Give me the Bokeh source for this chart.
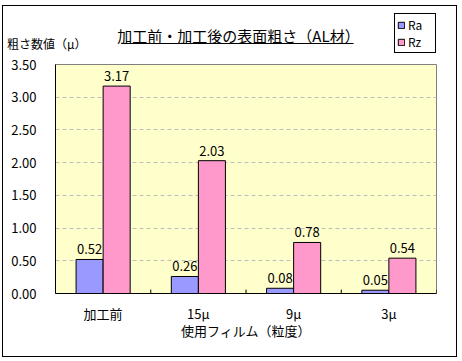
from bokeh.plotting import figure
from bokeh.layouts import column
from bokeh.models import ColumnDataSource, LabelSet, Label, Legend, LegendItem, FixedTicker, NumeralTickFormatter
from bokeh.core.properties import value
from bokeh.transform import dodge
from bokeh.embed import file_html
from bokeh.resources import INLINE

# ---- data ----
categories = ["加工前", "15μ", "9μ", "3μ"]
ra = [0.52, 0.26, 0.08, 0.05]
rz = [3.17, 2.03, 0.78, 0.54]
y_ticks = [0, 0.5, 1.0, 1.5, 2.0, 2.5, 3.0, 3.5]
series_names = ["Ra", "Rz"]
title_text = "加工前・加工後の表面粗さ（AL材）"
y_title = "粗さ数値（μ）"
x_title = "使用フィルム（粒度）"

FONT = "Noto Sans CJK JP"
RA_COLOR = "#9999FF"
RZ_COLOR = "#FF99CC"

W = 453
HEAD_H = 50
MAIN_H = 300
FRAME_W = 381

src = ColumnDataSource(dict(
    cat=categories, ra=ra, rz=rz,
    ra_t=[f"{v:.2f}" for v in ra], rz_t=[f"{v:.2f}" for v in rz],
    zero=[0] * len(categories), tk=[0.06] * len(categories),
))

# ---- header (title, y-axis title, legend); its frame is aligned with the chart frame ----
head = figure(width=W, height=HEAD_H, x_range=(0, FRAME_W), y_range=(0, HEAD_H),
              x_axis_type=None, min_border=0,
              output_backend="svg", toolbar_location=None,
              outline_line_color=None, background_fill_color="white", border_fill_color="white")
head.ygrid.visible = False
# y-axis title drawn as the single tick label of the header's left axis
head.yaxis.ticker = FixedTicker(ticks=[13])
head.yaxis.major_label_overrides = {13: y_title}
head.yaxis.major_label_standoff = -31
head.yaxis.major_tick_out = 0
head.yaxis.major_tick_in = 0
head.yaxis.minor_tick_out = 0
head.yaxis.minor_tick_in = 0
head.yaxis.axis_line_color = None
head.yaxis.major_label_text_font = FONT
head.yaxis.major_label_text_font_size = "12px"
head.yaxis.major_label_text_color = "black"

head.add_layout(Label(x=183, y=21, text=title_text, text_align="center", text_baseline="middle",
                      text_font=FONT, text_font_size="15px", text_color="black"))
head.line(x=[68, 298], y=[13, 13], line_color="black", line_width=1)

# legend swatches (no visible data in the header; only used for the legend glyphs)
nan = float("nan")
lg_ra = head.vbar(x="x", top="top", width=1, source=ColumnDataSource(dict(x=[nan], top=[nan])),
                  fill_color=RA_COLOR, line_color="black")
lg_rz = head.vbar(x="x", top="top", width=1, source=ColumnDataSource(dict(x=[nan], top=[nan])),
                  fill_color=RZ_COLOR, line_color="black")
legend = Legend(items=[LegendItem(label=series_names[0], renderers=[lg_ra], index=0),
                       LegendItem(label=series_names[1], renderers=[lg_rz], index=0)],
                location=(339, 3), orientation="vertical",
                label_text_font=FONT, label_text_font_size="12px", label_text_color="black",
                glyph_width=8, glyph_height=8, label_height=16, label_width=25, label_standoff=3,
                spacing=0, padding=2, margin=0,
                border_line_color="black", border_line_width=1, border_line_alpha=1,
                background_fill_color="white", background_fill_alpha=1)
head.add_layout(legend)

# ---- main chart ----
p = figure(x_range=categories, y_range=(0, 3.5), width=W, height=MAIN_H,
           output_backend="svg", toolbar_location=None,
           min_border_left=52, min_border_right=20, min_border_top=8, min_border_bottom=63,
           background_fill_color="#FFFFCC", border_fill_color="white",
           outline_line_color="#808080")
p.x_range.range_padding = 0

p.vbar(x=dodge("cat", -0.142, range=p.x_range), top="ra", width=0.284, source=src,
       fill_color=RA_COLOR, line_color="black", line_width=1)
p.vbar(x=dodge("cat", 0.142, range=p.x_range), top="rz", width=0.284, source=src,
       fill_color=RZ_COLOR, line_color="black", line_width=1)

# inward category-boundary ticks
p.segment(x0=dodge("cat", 0.5, range=p.x_range), x1=dodge("cat", 0.5, range=p.x_range),
          y0="zero", y1="tk", source=src, line_color="black", line_width=1)

for col, txt, off in (("ra", "ra_t", -0.142), ("rz", "rz_t", 0.142)):
    p.add_layout(LabelSet(x=dodge("cat", off, range=p.x_range), y=col, text=txt, source=src,
                          text_align="center", text_baseline="bottom", y_offset=5,
                          text_font=value(FONT), text_font_size="13px", text_color="black"))

p.yaxis.ticker = FixedTicker(ticks=y_ticks)
p.yaxis.formatter = NumeralTickFormatter(format="0.00")
p.yaxis.major_tick_out = 0
p.yaxis.major_tick_in = 0
p.yaxis.minor_tick_out = 0
p.yaxis.minor_tick_in = 0
p.yaxis.major_label_standoff = 19
p.yaxis.axis_line_color = "black"
p.xaxis.major_tick_out = 0
p.xaxis.major_tick_in = 0
p.xaxis.major_label_standoff = 10
p.xaxis.axis_label = x_title
p.xaxis.axis_label_standoff = -5
p.xaxis.axis_label_text_font_style = "normal"
for ax in (p.xaxis, p.yaxis):
    ax.major_label_text_font = FONT
    ax.major_label_text_font_size = "13px"
    ax.major_label_text_color = "black"
    ax.axis_label_text_font = FONT
    ax.axis_label_text_font_size = "13px"
    ax.axis_label_text_color = "black"

p.xgrid.grid_line_color = None
p.ygrid.ticker = FixedTicker(ticks=y_ticks[1:-1])
p.ygrid.grid_line_color = "#BFBFBF"
p.ygrid.grid_line_dash = "4 3"

layout = column(head, p, spacing=0,
                styles={"border": "1px solid black", "margin-left": "2px", "margin-top": "5px"})

open("out.html", "w").write(file_html(layout, INLINE))
